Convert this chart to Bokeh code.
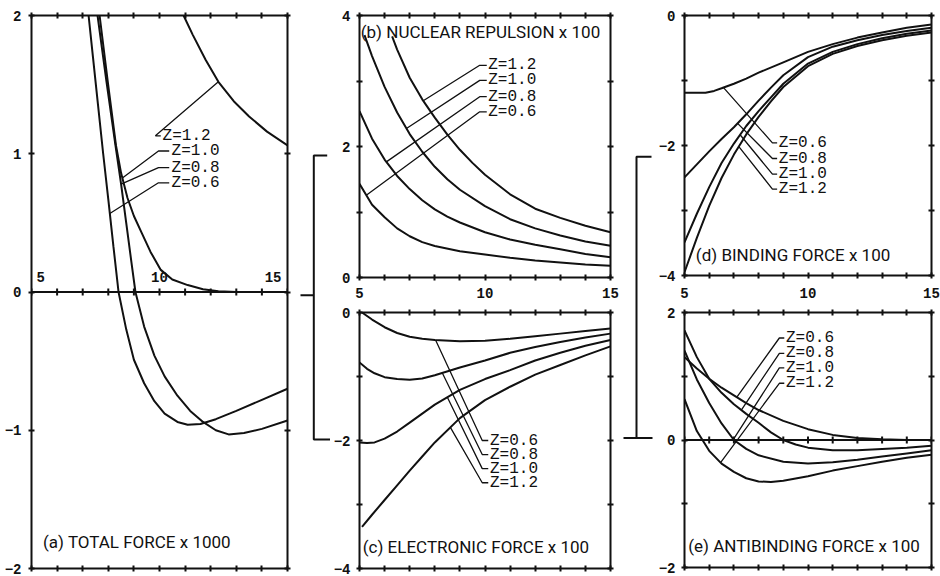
import numpy as np
from bokeh.plotting import figure
from bokeh.models import Range1d, LinearAxis, FixedTicker, ColumnDataSource, Span
from bokeh.layouts import row, column
from bokeh.embed import file_html
from bokeh.resources import INLINE
from bokeh.core.properties import value

# ---------------- data ----------------
z_names = ["Z=0.6", "Z=0.8", "Z=1.0", "Z=1.2"]
x_ticks = [5, 6, 7, 8, 9, 10, 11, 12, 13, 14, 15]
x_labelled = [5, 10, 15]

# (a) total force x 1000
a_x_06 = [7.23, 7.4, 7.6, 7.8, 8.0, 8.2, 8.4, 8.7, 9.0, 9.4, 9.8, 10.2, 10.7, 11.1, 11.6, 12.2, 13.0, 14.0, 15.0]
a_y_06 = [2.0, 1.7, 1.35, 1.0, 0.67, 0.33, 0.0, -0.27, -0.49, -0.66, -0.79, -0.88, -0.94, -0.96, -0.955, -0.92, -0.86, -0.78, -0.70]
a_x_08 = [7.58, 7.93, 8.28, 8.5, 8.7, 8.9, 9.06, 9.4, 9.8, 10.2, 10.7, 11.2, 11.7, 12.2, 12.7, 13.3, 14.0, 15.0]
a_y_08 = [2.0, 1.52, 1.06, 0.78, 0.5, 0.22, 0.0, -0.25, -0.46, -0.61, -0.75, -0.86, -0.94, -1.0, -1.03, -1.02, -0.99, -0.93]
a_x_10 = [7.66, 7.98, 8.3, 8.5, 8.75, 9.0, 9.3, 9.65, 10.05, 10.5, 11.1, 11.7, 12.3, 13.0, 15.0]
a_y_10 = [2.0, 1.52, 1.06, 0.86, 0.68, 0.55, 0.43, 0.29, 0.16, 0.09, 0.05, 0.02, 0.005, 0.0, 0.0]
a_x_12 = [10.94, 11.3, 11.8, 12.3, 12.9, 13.5, 14.2, 15.0]
a_y_12 = [2.0, 1.86, 1.68, 1.52, 1.38, 1.27, 1.16, 1.06]

# (b) nuclear repulsion x 100
b_x_06 = [5, 5.5, 6, 6.5, 7, 7.5, 8, 9, 10, 11, 12, 13, 14, 15]
b_y_06 = [1.43, 1.11, 0.92, 0.75, 0.63, 0.54, 0.48, 0.40, 0.35, 0.30, 0.26, 0.23, 0.20, 0.18]
b_x_08 = [5, 5.5, 6, 6.5, 7, 7.5, 8, 8.5, 9, 10, 11, 12, 13, 14, 15]
b_y_08 = [2.54, 2.12, 1.80, 1.55, 1.35, 1.18, 1.04, 0.93, 0.84, 0.69, 0.58, 0.50, 0.43, 0.36, 0.31]
b_x_10 = [5.2, 5.5, 6, 6.5, 7, 7.5, 8, 8.5, 9, 10, 11, 12, 13, 14, 15]
b_y_10 = [3.70, 3.38, 2.91, 2.52, 2.19, 1.92, 1.69, 1.50, 1.34, 1.09, 0.89, 0.75, 0.64, 0.55, 0.485]
b_x_12 = [6.3, 6.5, 7, 7.5, 8, 8.5, 9, 9.5, 10, 11, 12, 13, 14, 15]
b_y_12 = [3.68, 3.48, 3.05, 2.72, 2.44, 2.18, 1.95, 1.75, 1.57, 1.27, 1.05, 0.91, 0.79, 0.69]

# (c) electronic force x 100
c_x_06 = [5.1, 5.5, 6, 6.5, 7, 7.5, 8, 9, 10, 11, 12, 13, 14, 15]
c_y_06 = [0.0, -0.11, -0.23, -0.32, -0.38, -0.41, -0.43, -0.45, -0.44, -0.41, -0.37, -0.33, -0.29, -0.25]
c_x_08 = [5, 5.3, 5.6, 6, 6.5, 7, 7.5, 8, 9, 10, 11, 12, 13, 14, 15]
c_y_08 = [-0.78, -0.88, -0.95, -1.01, -1.04, -1.05, -1.03, -0.98, -0.86, -0.75, -0.63, -0.54, -0.46, -0.39, -0.33]
c_x_10 = [5, 5.3, 5.6, 6, 6.5, 7, 7.5, 8, 9, 10, 11, 12, 13, 14, 15]
c_y_10 = [-2.03, -2.04, -2.03, -1.97, -1.86, -1.72, -1.58, -1.44, -1.21, -1.04, -0.90, -0.75, -0.63, -0.52, -0.43]
c_x_12 = [5.1, 5.5, 6, 6.5, 7, 7.5, 8, 9, 10, 11, 12, 13, 14, 15]
c_y_12 = [-3.35, -3.16, -2.93, -2.70, -2.47, -2.25, -2.03, -1.65, -1.37, -1.16, -0.97, -0.82, -0.67, -0.53]

# (d) binding force x 100
d_x_06 = [5, 5.5, 5.85, 6.2, 6.5, 7, 7.5, 8, 9, 10, 11, 12, 13, 14, 15]
d_y_06 = [-1.19, -1.19, -1.19, -1.16, -1.12, -1.05, -0.97, -0.88, -0.72, -0.56, -0.44, -0.34, -0.26, -0.19, -0.14]
d_x = [5, 5.5, 6, 6.5, 7, 7.5, 8, 8.5, 9, 10, 11, 12, 13, 14, 15]
d_y_08 = [-2.49, -2.29, -2.09, -1.90, -1.72, -1.52, -1.31, -1.11, -0.92, -0.64, -0.48, -0.38, -0.30, -0.24, -0.19]
d_y_10 = [-3.49, -3.05, -2.64, -2.27, -1.97, -1.70, -1.47, -1.26, -1.05, -0.74, -0.56, -0.44, -0.35, -0.28, -0.23]
d_y_12 = [-3.95, -3.42, -2.93, -2.50, -2.14, -1.83, -1.56, -1.32, -1.10, -0.78, -0.59, -0.47, -0.38, -0.31, -0.26]

# (e) antibinding force x 100
e_x_06 = [5, 5.5, 6, 6.5, 7, 7.5, 8, 9, 10, 11, 12, 13, 14, 15]
e_y_06 = [1.30, 1.12, 0.96, 0.82, 0.70, 0.58, 0.47, 0.30, 0.17, 0.08, 0.03, 0.01, 0.0, 0.0]
e_x_08 = [5, 5.5, 6, 6.5, 7, 7.5, 8, 8.5, 9, 9.5, 10, 11, 12, 13, 14, 15]
e_y_08 = [1.72, 1.30, 0.96, 0.74, 0.56, 0.41, 0.27, 0.12, 0.0, -0.07, -0.12, -0.16, -0.16, -0.14, -0.12, -0.09]
e_x_10 = [5, 5.5, 6, 6.5, 7, 7.5, 8, 9, 10, 11, 12, 13, 14, 15]
e_y_10 = [1.40, 0.95, 0.58, 0.26, 0.0, -0.14, -0.24, -0.34, -0.37, -0.35, -0.31, -0.26, -0.21, -0.16]
e_x_12 = [5, 5.5, 6, 6.5, 7, 7.5, 8, 8.5, 9, 10, 11, 12, 13, 14, 15]
e_y_12 = [0.64, 0.14, -0.17, -0.37, -0.50, -0.60, -0.65, -0.66, -0.64, -0.57, -0.48, -0.41, -0.34, -0.28, -0.23]

# ---------------- styling helpers ----------------
INK = "#111111"
TICK_FONT = "Liberation Mono"
LABEL_FONT = "Liberation Mono"
TITLE_FONT = "Roboto"


def make_fig(w, h, xr, yr, bl, br, bt, bb):
    return figure(width=w, height=h, x_range=Range1d(*xr), y_range=Range1d(*yr),
                  x_axis_type=None, y_axis_type=None, toolbar_location=None,
                  output_backend="svg", outline_line_color=None,
                  min_border_left=bl, min_border_right=br,
                  min_border_top=bt, min_border_bottom=bb,
                  background_fill_color="white", border_fill_color="white")


def add_axis(p, side, ticks, labelled=(), standoff=6):
    """Frame edge with '+' ticks at every value in ticks; text only at `labelled`."""
    lab = [t for t in ticks if t in labelled]
    rest = [t for t in ticks if t not in labelled]
    ax = LinearAxis(ticker=FixedTicker(ticks=lab, minor_ticks=rest),
                    axis_line_width=2, axis_line_color=INK,
                    major_tick_line_width=2, major_tick_line_color=INK,
                    major_tick_in=3, major_tick_out=3,
                    minor_tick_line_width=2, minor_tick_line_color=INK,
                    minor_tick_in=3, minor_tick_out=3,
                    major_label_standoff=standoff,
                    major_label_text_font=TICK_FONT,
                    major_label_text_font_style="bold",
                    major_label_text_color=INK,
                    major_label_text_font_size="14px")
    p.add_layout(ax, side)


def curves(p, xs_list, ys_list):
    for xs, ys in zip(xs_list, ys_list):
        p.line(xs, ys, line_width=2, line_color=INK)


def leaders(p, xs_list, ys_list, order, targets, label_y, elbow_x, end_x, text_x):
    lx, ly, tx, ty, txt = [], [], [], [], []
    for k, tgt, yl in zip(order, targets, label_y):
        y_t = float(np.interp(tgt, xs_list[k], ys_list[k]))
        lx.append([tgt, elbow_x, end_x])
        ly.append([y_t, yl, yl])
        tx.append(text_x)
        ty.append(yl)
        txt.append(z_names[k])
    p.multi_line(lx, ly, line_width=1.3, line_color=INK)
    p.text(x=tx, y=ty, text=txt, text_font=value(LABEL_FONT), text_font_size="16px",
           text_baseline="middle", text_align="left", text_color=INK)


def title(p, x, y, s):
    p.text(x=[x], y=[y], text=[s], text_font=value(TITLE_FONT), text_font_size="17px",
           text_baseline="middle", text_align="left", text_color=INK)


def zero_axis(p):
    p.add_layout(Span(location=0, dimension="width", line_color=INK, line_width=2))
    p.scatter(x_ticks, [0] * len(x_ticks), marker="cross", size=7, line_width=2, line_color=INK)


# ---------------- panel (a) ----------------
pa = make_fig(292, 576, (5, 15), (-2, 2), 31, 5, 15, 8)
add_axis(pa, "left", [-2, -1, 0, 1, 2], labelled=(-2, -1, 0, 1, 2), standoff=7)
add_axis(pa, "right", [-2, -1, 0, 1, 2])
add_axis(pa, "above", x_ticks)
add_axis(pa, "below", x_ticks)
zero_axis(pa)
zsrc = ColumnDataSource(dict(x=x_labelled, y=[0] * len(x_labelled),
                             t=[str(v) for v in x_labelled],
                             al=["left", "center", "right"], xo=[5, 0, -6]))
pa.text(x="x", y="y", text="t", source=zsrc, text_align="al", x_offset="xo", y_offset=-10,
        text_baseline="bottom", text_font=value(TICK_FONT), text_font_style="bold",
        text_font_size="14px", text_color=INK)
a_xs = [a_x_06, a_x_08, a_x_10, a_x_12]
a_ys = [a_y_06, a_y_08, a_y_10, a_y_12]
curves(pa, a_xs, a_ys)
leaders(pa, a_xs, a_ys, [3], [12.3], [1.13], 9.84, 10.05, 10.12)
leaders(pa, a_xs, a_ys, [2, 1, 0], [8.55, 8.5, 8.06], [1.02, 0.90, 0.79], 9.96, 10.38, 10.47)
title(pa, 5.45, -1.81, "(a) TOTAL FORCE x 1000")


# ---------------- bracket figures (decorative scale connectors) ----------------
def bracket(w, xs, ys):
    q = figure(width=w, height=576, x_range=Range1d(0, w), y_range=Range1d(576, 0),
               x_axis_type=None, y_axis_type=None, toolbar_location=None,
               output_backend="svg", outline_line_color=None,
               min_border_left=0, min_border_right=0, min_border_top=0, min_border_bottom=0,
               background_fill_color="white", border_fill_color="white")
    q.multi_line(xs, ys, line_width=2, line_color=INK)
    return q


br1 = bracket(38, [[34.7, 21.3, 21.3, 38], [8, 21.3]], [[145.7, 145.7, 441.7, 441.7], [291.5, 291.5]])
br2 = bracket(33, [[29, 14, 14], [1, 30]], [[147, 147, 440], [440, 440]])

# ---------------- panel (b) ----------------
pb = make_fig(292, 303, (5, 15), (0, 4), 29, 12, 15, 26)
add_axis(pb, "left", [0, 1, 2, 3, 4], labelled=(0, 2, 4))
add_axis(pb, "right", [0, 1, 2, 3, 4])
add_axis(pb, "above", x_ticks)
add_axis(pb, "below", x_ticks, labelled=x_labelled, standoff=7)
b_xs = [b_x_06, b_x_08, b_x_10, b_x_12]
b_ys = [b_y_06, b_y_08, b_y_10, b_y_12]
curves(pb, b_xs, b_ys)
leaders(pb, b_xs, b_ys, [3, 2, 1, 0], [7.54, 6.87, 6.07, 5.27], [3.24, 3.01, 2.76, 2.53], 9.79, 10.07, 10.13)
title(pb, 5.05, 3.75, "(b) NUCLEAR REPULSION x 100")

# ---------------- panel (c) ----------------
pc = make_fig(292, 273, (5, 15), (-4, 0), 29, 12, 9, 8)
add_axis(pc, "left", [-4, -3, -2, -1, 0], labelled=(-4, -2, 0))
add_axis(pc, "right", [-4, -3, -2, -1, 0])
add_axis(pc, "above", x_ticks)
add_axis(pc, "below", x_ticks)
c_xs = [c_x_06, c_x_08, c_x_10, c_x_12]
c_ys = [c_y_06, c_y_08, c_y_10, c_y_12]
curves(pc, c_xs, c_ys)
leaders(pc, c_xs, c_ys, [0, 1, 2, 3], [8.03, 8.3, 8.5, 8.62], [-2.0, -2.22, -2.44, -2.66], 9.89, 10.13, 10.2)
title(pc, 5.13, -3.66, "(c) ELECTRONIC FORCE x 100")

# ---------------- panel (d) ----------------
pd_ = make_fig(285, 303, (5, 15), (-4, 0), 24, 9, 15, 28)
add_axis(pd_, "left", [-4, -3, -2, -1, 0], labelled=(-4, -2, 0))
add_axis(pd_, "right", [-4, -3, -2, -1, 0])
add_axis(pd_, "above", x_ticks)
add_axis(pd_, "below", x_ticks, labelled=x_labelled, standoff=9)
d_xs = [d_x_06, d_x, d_x, d_x]
d_ys = [d_y_06, d_y_08, d_y_10, d_y_12]
curves(pd_, d_xs, d_ys)
leaders(pd_, d_xs, d_ys, [0, 1, 2, 3], [6.58, 7.15, 7.25, 7.2], [-1.96, -2.2, -2.44, -2.67], 8.56, 8.75, 8.82)
title(pd_, 5.46, -3.69, "(d) BINDING FORCE x 100")

# ---------------- panel (e) ----------------
pe = make_fig(285, 273, (5, 15), (-2, 2), 24, 9, 9, 9)
add_axis(pe, "left", [-2, -1, 0, 1, 2], labelled=(-2, 0, 2))
add_axis(pe, "right", [-2, -1, 0, 1, 2])
add_axis(pe, "above", x_ticks)
add_axis(pe, "below", x_ticks)
zero_axis(pe)
e_xs = [e_x_06, e_x_08, e_x_10, e_x_12]
e_ys = [e_y_06, e_y_08, e_y_10, e_y_12]
curves(pe, e_xs, e_ys)
leaders(pe, e_xs, e_ys, [0, 1, 2, 3], [7.12, 7.3, 6.98, 6.46], [1.6, 1.36, 1.13, 0.89], 8.84, 9.04, 9.11)
title(pe, 5.15, -1.66, "(e) ANTIBINDING FORCE x 100")

layout = row(pa, br1, column(pb, pc), br2, column(pd_, pe))
open("out.html", "w").write(file_html(layout, INLINE))
